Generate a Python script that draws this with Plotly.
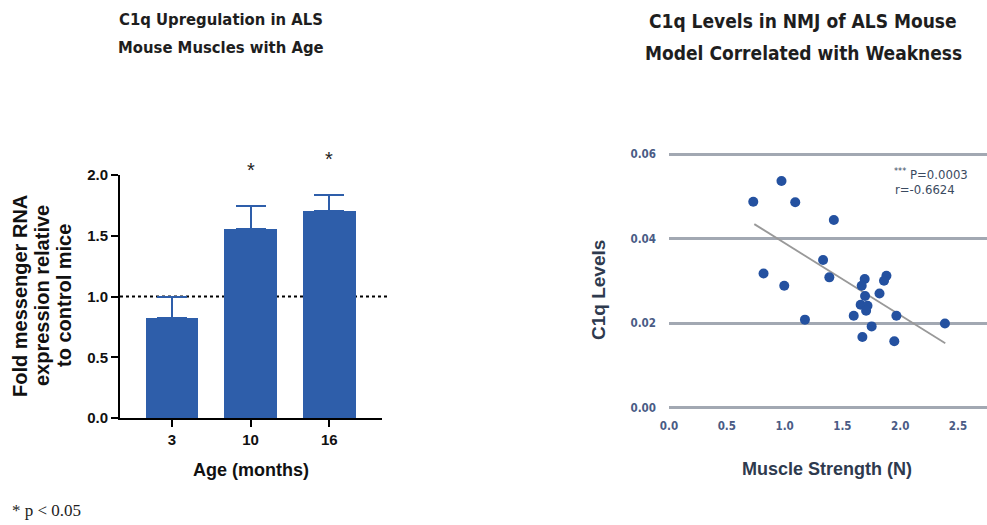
import plotly.graph_objects as go

W, H = 987, 525

# ---------------- data: left bar chart ----------------
age_labels = ["3", "10", "16"]
fold_change = [0.82, 1.555, 1.70]
fold_err_up = [0.18, 0.19, 0.135]
sig_marks = ["", "*", "*"]

# ---------------- data: right scatter ----------------
strength_n = [0.729, 0.973, 1.092, 1.426, 1.333, 0.818, 0.997, 1.387, 1.693, 1.667,
              1.881, 1.860, 1.821, 1.696, 1.658, 1.717, 1.705, 1.598, 1.967, 1.176,
              1.753, 2.387, 1.673, 1.949]
c1q_level = [0.0487, 0.0536, 0.0486, 0.0444, 0.0349, 0.0317, 0.0288, 0.0308, 0.0304, 0.0288,
             0.0312, 0.0300, 0.0270, 0.0264, 0.0243, 0.0241, 0.0229, 0.0217, 0.0217, 0.0208,
             0.0192, 0.0199, 0.0167, 0.0157]
fit_x = [0.738, 2.39]
fit_y = [0.0434, 0.0152]
x_ticks_r = [0.0, 0.5, 1.0, 1.5, 2.0, 2.5]
y_ticks_r = [0.00, 0.02, 0.04, 0.06]
y_ticks_l = [0.0, 0.5, 1.0, 1.5, 2.0]

BAR_BLUE = "#2e5eaa"
DOT_BLUE = "#2451a0"
NARROW = "DejaVu Sans Condensed, Liberation Sans Narrow, Arial Narrow, sans-serif"
SANS = "Liberation Sans, Arial, sans-serif"


def px_x(p):
    return p / W


def px_y(p):
    return 1 - p / H


# left axis geometry
L_DOM = [px_y(418), px_y(175)]
L_RANGE = [0, 2.0]

fig = go.Figure()

fig.add_trace(go.Bar(
    x=age_labels, y=fold_change, width=0.67,
    marker=dict(color=BAR_BLUE, line=dict(width=0)),
    error_y=dict(type="data", symmetric=False, array=fold_err_up,
                 arrayminus=[0] * len(fold_err_up),
                 color=BAR_BLUE, thickness=2, width=15),
    xaxis="x", yaxis="y", showlegend=False, hoverinfo="skip",
))

fig.add_trace(go.Scatter(
    x=fit_x, y=fit_y, mode="lines",
    line=dict(color="#999999", width=1.8),
    xaxis="x2", yaxis="y2", showlegend=False, hoverinfo="skip",
))
fig.add_trace(go.Scatter(
    x=strength_n, y=c1q_level, mode="markers",
    marker=dict(color=DOT_BLUE, size=10, line=dict(width=0)),
    xaxis="x2", yaxis="y2", showlegend=False, hoverinfo="skip",
))

# dotted reference line at fold = 1
fig.add_shape(type="line", xref="x domain", yref="y", x0=0, x1=1.02, y0=1.0, y1=1.0,
              line=dict(color="black", width=2, dash="dot"), layer="below")

# significance stars: above the error bars (value mapped through the y scale to paper)
for i, (v, e, s) in enumerate(zip(fold_change, fold_err_up, sig_marks)):
    if s:
        frac = (v + e + 0.30 - L_RANGE[0]) / (L_RANGE[1] - L_RANGE[0])
        fig.add_annotation(x=i, y=L_DOM[0] + frac * (L_DOM[1] - L_DOM[0]),
                           xref="x", yref="paper", text=s,
                           showarrow=False, font=dict(family=SANS, size=20, color="#222"),
                           yanchor="middle")

# titles
for txt, yy in [("C1q Upregulation in ALS", 20), ("Mouse Muscles with Age", 47)]:
    fig.add_annotation(x=px_x(221), y=px_y(yy), xref="paper", yref="paper", text=f"<b>{txt}</b>",
                       showarrow=False, font=dict(family=NARROW, size=16.5, color="#1e1e1e"),
                       xanchor="center", yanchor="middle")
for txt, yy in [("C1q Levels in NMJ of ALS Mouse", 21), ("Model Correlated with Weakness", 53)]:
    fig.add_annotation(x=px_x(803), y=px_y(yy), xref="paper", yref="paper", text=f"<b>{txt}</b>",
                       showarrow=False, font=dict(family=NARROW, size=19, color="#1e1e1e"),
                       xanchor="center", yanchor="middle")

# left axis titles (one annotation per line for tight leading)
for txt, xx in [("Fold messenger RNA", 20), ("expression relative", 42), ("to control mice", 64)]:
    fig.add_annotation(x=px_x(xx), y=px_y(296), xref="paper", yref="paper",
                       text=f"<b>{txt}</b>", textangle=-90, showarrow=False,
                       font=dict(family=SANS, size=20, color="#111"),
                       xanchor="center", yanchor="middle")
fig.add_annotation(x=px_x(251), y=px_y(470), xref="paper", yref="paper",
                   text="<b>Age (months)</b>", showarrow=False,
                   font=dict(family=SANS, size=18, color="#111"), xanchor="center", yanchor="middle")

# right axis titles
fig.add_annotation(x=px_x(598), y=px_y(290), xref="paper", yref="paper",
                   text="<b>C1q Levels</b>", textangle=-90, showarrow=False,
                   font=dict(family=SANS, size=19, color="#2e3a4e"), xanchor="center", yanchor="middle")
fig.add_annotation(x=px_x(827), y=px_y(469), xref="paper", yref="paper",
                   text="<b>Muscle Strength (N)</b>", showarrow=False,
                   font=dict(family=SANS, size=18, color="#2e3a4e"), xanchor="center", yanchor="middle")

# stats text
fig.add_annotation(x=px_x(970), y=px_y(174), xref="paper", yref="paper",
                   text="<sup>***</sup> P=0.0003", showarrow=False, xanchor="right", yanchor="middle",
                   font=dict(family=NARROW, size=13, color="#3a4a60"))
fig.add_annotation(x=px_x(957), y=px_y(189), xref="paper", yref="paper",
                   text="r=-0.6624", showarrow=False, xanchor="right", yanchor="middle",
                   font=dict(family=NARROW, size=13, color="#3a4a60"))

# footnote
fig.add_annotation(x=px_x(10), y=px_y(510), xref="paper", yref="paper",
                   text="* p &lt; 0.05", showarrow=False, xanchor="left", yanchor="middle",
                   font=dict(family="Liberation Serif, Times New Roman, serif", size=17, color="#222"))

# right axis geometry: 0 -> 407.5px, 0.06 -> 154px ; x: 0 -> 669px, 115.6 px/unit
y_pad = 0.001
ppu_y = (407.5 - 154) / 0.06
r_bot = 407.5 + y_pad * ppu_y
r_top = 154 - y_pad * ppu_y
x_right = (W - 669) / 115.6

fig.update_layout(
    width=W, height=H, autosize=False,
    margin=dict(l=0, r=0, t=0, b=0),
    paper_bgcolor="white", plot_bgcolor="white",
    bargap=0,
    xaxis=dict(domain=[px_x(120), px_x(382)], type="category", range=[-0.66, 2.67],
               showline=True, linecolor="black", linewidth=2,
               ticks="outside", ticklen=7, tickwidth=2, tickcolor="black",
               tickfont=dict(family=SANS, size=15, color="#111"),
               tickprefix="<b>", ticksuffix="</b>",
               showgrid=False, zeroline=False, anchor="y", automargin=False),
    yaxis=dict(domain=L_DOM, range=L_RANGE,
               tickvals=y_ticks_l, ticktext=[f"<b>{v:.1f}</b>" for v in y_ticks_l],
               showline=True, linecolor="black", linewidth=2,
               ticks="outside", ticklen=7, tickwidth=2, tickcolor="black",
               tickfont=dict(family=SANS, size=15, color="#111"),
               showgrid=False, zeroline=False, anchor="x", automargin=False),
    xaxis2=dict(domain=[px_x(669), 1.0], range=[0, x_right],
                tickvals=x_ticks_r, ticktext=[f"<b>{v:.1f}</b>" for v in x_ticks_r],
                showline=False, showgrid=False, zeroline=False, ticks="",
                ticklabelstandoff=6, automargin=False,
                tickfont=dict(family=NARROW, size=11.5, color="#4a5b85"), anchor="y2"),
    yaxis2=dict(domain=[px_y(r_bot), px_y(r_top)], range=[-y_pad, 0.06 + y_pad],
                tickvals=y_ticks_r, ticktext=[f"<b>{v:.2f}</b>" for v in y_ticks_r],
                showline=False, showgrid=True, gridcolor="#a2a8b2", gridwidth=2.5,
                zeroline=False, ticks="", ticklabelstandoff=12, automargin=False,
                tickfont=dict(family=NARROW, size=11.5, color="#4a5b85"), anchor="x2"),
)

fig.write_html("out.html",
               config={"displayModeBar": False},
               post_script="document.body.style.margin='0px';document.body.style.overflow='hidden';")
